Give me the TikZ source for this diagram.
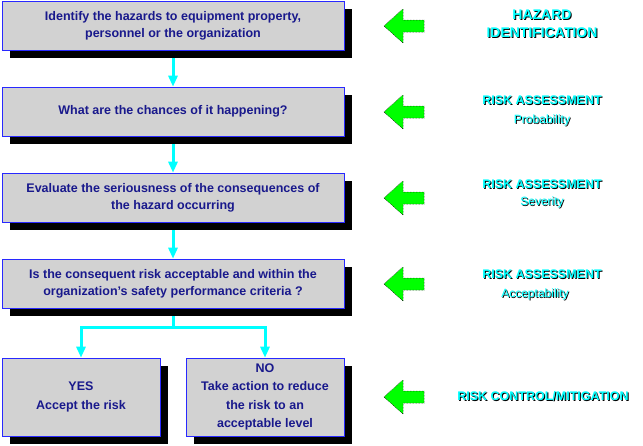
\documentclass[tikz,border=0pt]{standalone}
\usepackage{fontspec}
\setmainfont{Liberation Sans}
\usetikzlibrary{arrows.meta,shadows,backgrounds}
\definecolor{boxtext}{RGB}{25,25,140}
\definecolor{boxline}{RGB}{40,40,255}
\definecolor{flow}{RGB}{0,255,255}
\definecolor{pointer}{RGB}{0,255,0}
\newcommand{\shtxt}[1]{\makebox[0pt][l]{\kern1pt\raisebox{-1pt}{\color{black}#1}}#1}
\tikzset{
  stepbox/.style={draw=boxline, line width=0.6pt, fill=gray!35, text=boxtext,
    font=\bfseries\fontsize{12.5}{17}\selectfont, align=center, inner sep=0pt,
    minimum width=342pt, minimum height=49pt,
    general shadow={fill=black, shadow xshift=8pt, shadow yshift=-8pt}},
  endbox/.style={stepbox, minimum width=158pt, minimum height=78pt,
    font=\bfseries\fontsize{12.5}{18.5}\selectfont},
  flowline/.style={flow, line width=3pt, -{Triangle[width=9pt,length=11pt]}},
  stage/.style={text=flow, align=center, inner sep=0pt,
    font=\bfseries\fontsize{12.5}{18}\selectfont},
  sub/.style={text=flow, inner sep=0pt, font=\fontsize{12}{14}\selectfont},
}
\begin{document}
\begin{tikzpicture}[x=1pt,y=-1pt]
    \useasboundingbox (0,0) rectangle (643,445);
    % steps
    \node[stepbox] (hazard) at (173,25.5) {Identify the hazards to equipment property,\\personnel or the organization};
    \node[stepbox] (chance) at (173,111.5) {What are the chances of it happening?};
    \node[stepbox] (serious) at (173,197.5) {Evaluate the seriousness of the consequences of\\the hazard occurring};
    \node[stepbox] (accept) at (173,283.5) {Is the consequent risk acceptable and within the\\organization’s safety performance criteria ?};
    \node[endbox] (yes) at (81,397) {YES\\Accept the risk};
    \node[endbox] (no) at (265,397) {NO\\Take action to reduce\\the risk to an\\acceptable level};
    \coordinate (split) at (173,327);
    \begin{scope}[on background layer]
        \draw[flowline] (hazard) -- (chance);
        \draw[flowline] (chance) -- (serious);
        \draw[flowline] (serious) -- (accept);
        \draw[flowline] (accept.south) -- (split) -| (yes.north);
        \draw[flowline] (split) -| (no.north);
    \end{scope}
    % green pointers
    \foreach \y in {26,112,198,284,397}
        \draw[fill=pointer, densely dotted, line width=0.5pt] (384,\y) -- (403,\y-17) -- (403,\y-6) -- (424,\y-6)
            -- (424,\y+6) -- (403,\y+6) -- (403,\y+17) -- cycle;
    % stage labels
    \node[stage, font=\bfseries\fontsize{14}{18}\selectfont] (ident) at (542,24) {\shtxt{HAZARD}\\\shtxt{IDENTIFICATION}};
    \node[stage] (prob) at (542,101) {\shtxt{RISK ASSESSMENT}};
    \node[sub] (probsub) at (542,121) {\shtxt{Probability}};
    \node[stage] (sev) at (542,185) {\shtxt{RISK ASSESSMENT}};
    \node[sub] (sevsub) at (542,203) {\shtxt{Severity}};
    \node[stage] (acc) at (542,275) {\shtxt{RISK ASSESSMENT}};
    \node[sub] (accsub) at (535,295) {\shtxt{Acceptability}};
    \node[stage] (ctrl) at (543,397) {\shtxt{RISK CONTROL/MITIGATION}};
\end{tikzpicture}
\end{document}
